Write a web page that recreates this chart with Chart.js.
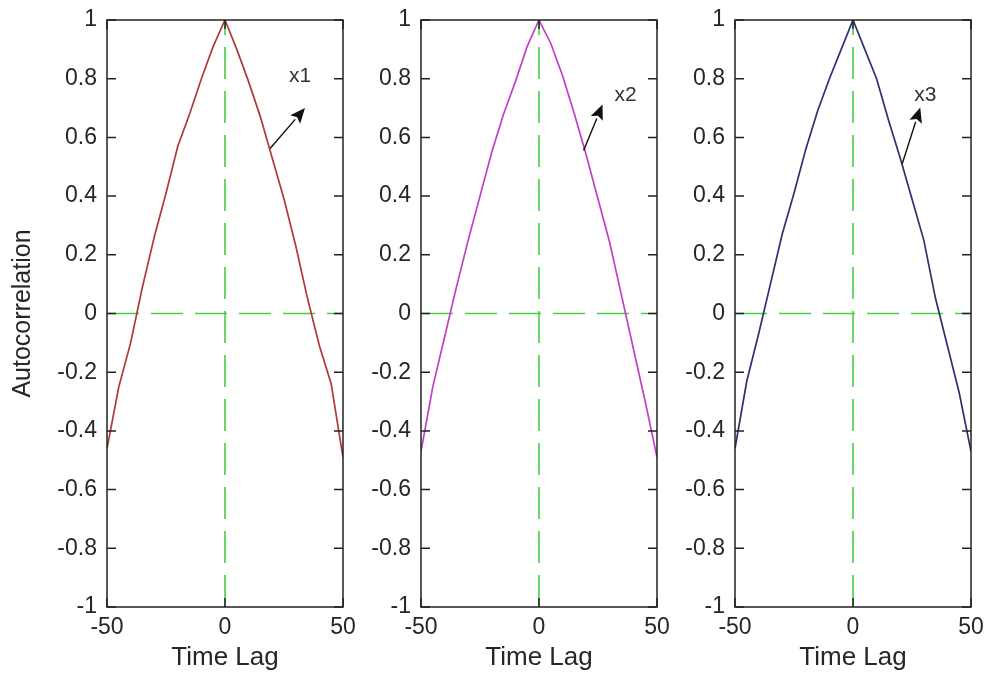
<!DOCTYPE html>
<html><head><meta charset="utf-8">
<script src="https://cdn.jsdelivr.net/npm/chart.js@4.4.1/dist/chart.umd.min.js"></script>
<style>
html,body{margin:0;padding:0;background:#fff;width:985px;height:675px;overflow:hidden;}
canvas{position:absolute;top:0;}
</style></head><body>
<canvas id="c1" width="365" height="675" style="left:0px"></canvas>
<canvas id="c2" width="330" height="675" style="left:350px"></canvas>
<canvas id="c3" width="321" height="675" style="left:664px"></canvas>
<script>
// ---- data ----
const lags = [-50,-45,-40,-35,-30,-25,-20,-15,-10,-5,0,5,10,15,20,25,30,35,40,45,50];
const acfX1 = [-0.46,-0.25,-0.10,0.09,0.26,0.41,0.57,0.68,0.80,0.91,1.00,0.90,0.79,0.67,0.53,0.39,0.23,0.05,-0.11,-0.24,-0.49];
const acfX2 = [-0.47,-0.25,-0.08,0.09,0.25,0.40,0.55,0.68,0.79,0.91,1.00,0.92,0.81,0.68,0.54,0.39,0.24,0.06,-0.12,-0.30,-0.49];
const acfX3 = [-0.46,-0.23,-0.07,0.10,0.27,0.41,0.56,0.69,0.80,0.90,1.00,0.90,0.80,0.66,0.53,0.39,0.25,0.05,-0.11,-0.27,-0.47];
const xTickValues = [-50,0,50];
const yTickValues = [-1,-0.8,-0.6,-0.4,-0.2,0,0.2,0.4,0.6,0.8,1];
const seriesNames = ['x1','x2','x3'];
const xTitle = 'Time Lag';
const yTitle = 'Autocorrelation';

const FONT = "'Liberation Sans', Arial, sans-serif";
const TXT = '#262626';
const GREEN = '#45cf45';

const boxPlugin = {
  id: 'matlabBox',
  afterDraw(chart) {
    const {ctx, chartArea: a, scales} = chart;
    ctx.save();
    ctx.strokeStyle = '#222';
    ctx.lineWidth = 1.5;
    const tl = 9;
    ctx.beginPath();
    yTickValues.forEach(v => {
      const y = scales.y.getPixelForValue(v);
      ctx.moveTo(a.left, y); ctx.lineTo(a.left + tl, y);
      ctx.moveTo(a.right, y); ctx.lineTo(a.right - tl, y);
    });
    xTickValues.forEach(v => {
      const x = scales.x.getPixelForValue(v);
      ctx.moveTo(x, a.bottom); ctx.lineTo(x, a.bottom - tl);
      ctx.moveTo(x, a.top); ctx.lineTo(x, a.top + tl);
    });
    ctx.stroke();
    ctx.strokeRect(a.left, a.top, a.right - a.left, a.bottom - a.top);
    ctx.restore();
  }
};

const arrowPlugin = {
  id: 'arrowNote',
  afterDatasetsDraw(chart, args, o) {
    if (!o || !o.text) return;
    const {ctx, scales} = chart;
    const px = p => [scales.x.getPixelForValue(p[0]), scales.y.getPixelForValue(p[1])];
    const [tx, ty] = px(o.tail), [hx, hy] = px(o.head), [lx, ly] = px(o.label);
    ctx.save();
    ctx.strokeStyle = '#111'; ctx.fillStyle = '#111'; ctx.lineWidth = 1.4;
    const ang = Math.atan2(hy - ty, hx - tx);
    const L = 15, W = 6.5;
    const bx = hx - L * Math.cos(ang), by = hy - L * Math.sin(ang);
    ctx.beginPath(); ctx.moveTo(tx, ty); ctx.lineTo(bx, by); ctx.stroke();
    ctx.beginPath();
    ctx.moveTo(hx, hy);
    ctx.lineTo(bx + W * Math.sin(ang), by - W * Math.cos(ang));
    ctx.lineTo(bx + 3 * Math.cos(ang), by + 3 * Math.sin(ang));
    ctx.lineTo(bx - W * Math.sin(ang), by + W * Math.cos(ang));
    ctx.closePath(); ctx.fill();
    ctx.fillStyle = '#333';
    ctx.font = "21px " + FONT;
    ctx.textAlign = 'center'; ctx.textBaseline = 'middle';
    ctx.fillText(o.text, lx, ly);
    ctx.restore();
  }
};

function makeChart(id, values, color, cfg) {
  new Chart(document.getElementById(id), {
    type: 'line',
    data: { datasets: [
      { data: lags.map((l, i) => ({x: l, y: values[i]})), borderColor: color, borderWidth: 1.7,
        pointRadius: 0, tension: 0, order: 0 },
      { data: [{x: 0, y: -1}, {x: 0, y: 1}], borderColor: GREEN, borderWidth: 1.6,
        borderDash: [32, 12], pointRadius: 0, order: 1 },
      { data: [{x: -50, y: 0}, {x: 50, y: 0}], borderColor: GREEN, borderWidth: 1.6,
        borderDash: [32, 12], pointRadius: 0, order: 1 }
    ]},
    options: {
      responsive: false, animation: false, events: [],
      layout: { padding: { left: 0, right: cfg.padRight, top: 20, bottom: 0 } },
      plugins: { legend: { display: false }, tooltip: { enabled: false }, arrowNote: cfg.note },
      scales: {
        x: {
          type: 'linear', min: -50, max: 50,
          grid: { display: false, drawTicks: false }, border: { display: false },
          afterBuildTicks: s => { s.ticks = xTickValues.map(v => ({value: v})); },
          afterFit: s => { s.height = 68; s.paddingLeft = 0; s.paddingRight = 0; },
          ticks: { font: { family: FONT, size: 23 }, color: TXT, padding: 7, maxRotation: 0, autoSkip: false,
                   callback: v => String(v) },
          title: { display: true, text: xTitle, font: { family: FONT, size: 26 }, color: TXT,
                   padding: { top: 0, bottom: 2 } }
        },
        y: {
          type: 'linear', min: -1, max: 1,
          grid: { display: false, drawTicks: false }, border: { display: false },
          afterBuildTicks: s => { s.ticks = yTickValues.map(v => ({value: v})); },
          afterFit: s => { s.width = cfg.yWidth; s.paddingTop = 0; s.paddingBottom = 0; },
          ticks: { font: { family: FONT, size: 23 }, color: TXT, padding: 10, autoSkip: false,
                   callback: v => String(Math.round(v * 10) / 10) },
          title: { display: cfg.showTitle, text: yTitle, font: { family: FONT, size: 25 }, color: TXT,
                   padding: { top: 8, bottom: 0 } }
        }
      }
    },
    plugins: [boxPlugin, arrowPlugin]
  });
}

makeChart('c1', acfX1, '#b03838', { padRight: 22, yWidth: 107, showTitle: true,
  note: { text: seriesNames[0], tail: [19.1, 0.562], head: [33.9, 0.70], label: [31.8, 0.807] } });
makeChart('c2', acfX2, '#c040c8', { padRight: 23, yWidth: 71, showTitle: false,
  note: { text: seriesNames[1], tail: [18.9, 0.555], head: [26.9, 0.712], label: [36.7, 0.743] } });
makeChart('c3', acfX3, '#30306e', { padRight: 14, yWidth: 71, showTitle: false,
  note: { text: seriesNames[2], tail: [20.9, 0.511], head: [28.5, 0.702], label: [30.6, 0.743] } });
</script>
</body></html>
